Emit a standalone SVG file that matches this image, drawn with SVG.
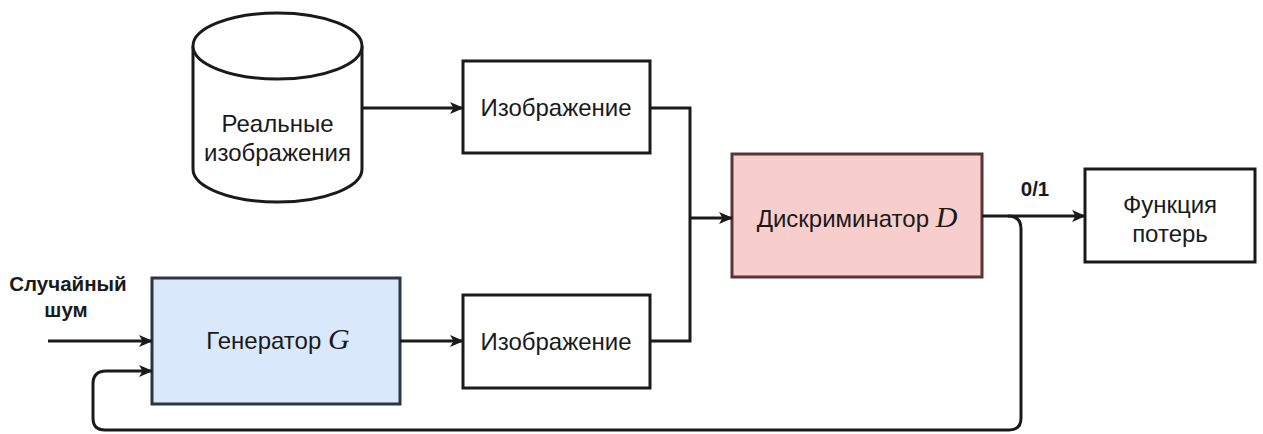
<svg xmlns="http://www.w3.org/2000/svg" width="1263" height="434" viewBox="0 0 1263 434">
<style>
.t{font-family:"Liberation Sans",Arial,sans-serif;font-size:24px;fill:#1a1a1a;text-anchor:middle}
.b{font-family:"Liberation Sans",Arial,sans-serif;font-size:20.5px;font-weight:bold;fill:#1a1a1a;text-anchor:middle}
.m{font-family:"Liberation Serif","Times New Roman",serif;font-style:italic;font-size:30px}
.box{fill:#fff;stroke:#1a1a1a;stroke-width:3}
.c{fill:none;stroke:#1a1a1a;stroke-width:3}
</style>
<defs>
<marker id="ar" viewBox="0 0 14 12" refX="13" refY="6" markerWidth="14" markerHeight="12" markerUnits="userSpaceOnUse" orient="auto">
<path d="M0,0 L14,6 L0,12 L3.5,6 Z" fill="#1a1a1a"/>
</marker>
</defs>
<rect width="1263" height="434" fill="#fff"/>
<g id="real">
<path d="M193,46 L193,169 A84.5,33 0 0 0 362,169 L362,46" class="box"/>
<ellipse cx="277.5" cy="46" rx="84.5" ry="33" class="box"/>
<text class="t" x="277.5" y="132">Реальные</text>
<text class="t" x="277.5" y="161">изображения</text>
</g>
<g id="img1">
<rect x="463" y="61" width="187" height="92" class="box"/>
<text class="t" x="556" y="116">Изображение</text>
</g>
<g id="img2">
<rect x="463" y="295" width="187" height="93" class="box"/>
<text class="t" x="556" y="350">Изображение</text>
</g>
<g id="gen">
<rect x="152" y="278" width="248" height="126" fill="#dae8fc" stroke="#2d3540" stroke-width="3"/>
<text class="t" x="278" y="349">Генератор <tspan class="m">G</tspan></text>
</g>
<g id="disc">
<rect x="732" y="154" width="250" height="123" fill="#f8cecc" stroke="#5a3535" stroke-width="3"/>
<text class="t" x="857" y="227">Дискриминатор <tspan class="m">D</tspan></text>
</g>
<g id="loss">
<rect x="1085" y="169" width="170" height="93" class="box"/>
<text class="t" x="1170" y="213">Функция</text>
<text class="t" x="1170" y="242">потерь</text>
</g>
<g id="noise">
<text class="b" x="68" y="291">Случайный</text>
<text class="b" x="66" y="317">шум</text>
</g>
<g id="connectors">
<path d="M362,108 L463,108" class="c" marker-end="url(#ar)"/>
<path d="M48,341 L152,341" class="c" marker-end="url(#ar)"/>
<path d="M400,341 L463,341" class="c" marker-end="url(#ar)"/>
<path d="M650,108 L690,108 L690,341 L650,341" class="c"/>
<path d="M690,218 L732,218" class="c" marker-end="url(#ar)"/>
<path d="M982,216 L1085,216" class="c" marker-end="url(#ar)"/>
<path d="M1008,216 Q1021,216 1021,229 L1021,418 Q1021,430 1009,430 L105,430 Q93,430 93,418 L93,384 Q93,371 106,371 L152,371" class="c" marker-end="url(#ar)"/>
<text class="b" x="1035" y="196" font-size="18">0/1</text>
</g>
</svg>
